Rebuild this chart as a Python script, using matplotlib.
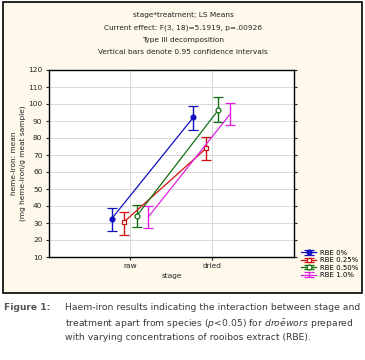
import matplotlib
matplotlib.use('Agg')
import matplotlib.pyplot as plt
import matplotlib.patches as patches
from matplotlib.container import ErrorbarContainer
from matplotlib.legend_handler import HandlerErrorbar

stages = ['raw', 'dried']
treatments = ['RBE 0%', 'RBE 0.25%', 'RBE 0.50%', 'RBE 1.0%']
colors = ['#1010c0', '#d01010', '#107010', '#e020e0']
markers = ['o', 's', 'o', '']
filled = [True, False, False, True]
offsets = [-0.23, -0.075, 0.075, 0.22]

means = [[32.5, 92.2], [30.8, 73.9], [34.1, 96.5], [33.7, 94.1]]
lower = [[25.3, 84.7], [22.9, 67.1], [27.5, 89.2], [26.9, 87.6]]
upper = [[38.6, 98.6], [36.7, 80.8], [40.8, 104.0], [40.2, 100.8]]

title_lines = ['stage*treatment; LS Means',
               'Current effect: F(3, 18)=5.1919, p=.00926',
               'Type III decomposition',
               'Vertical bars denote 0.95 confidence intervals']

W, H = 365, 360
fig = plt.figure(figsize=(W / 100, H / 100), dpi=100)
fig.patch.set_facecolor('white')

# cream panel with black border, kept behind the axes
box = patches.Rectangle((3 / W, 1 - 293 / H), 359 / W, 291 / H, transform=fig.transFigure,
                        facecolor='#fff9ec', edgecolor='black', linewidth=1.2, zorder=-10)
fig.patches.append(box)

for i, line in enumerate(title_lines):
    fig.text(183 / W, 1 - (15 + i * 12.3) / H, line, ha='center', va='center',
             fontsize=5.3, color='#222222')

ax = fig.add_axes([48.7 / W, 1 - 257 / H, (294 - 48.7) / W, (257 - 70) / H])
ax.set_facecolor('white')

for k in range(len(treatments)):
    xs = [j + offsets[k] for j in range(len(stages))]
    yerr = [[means[k][j] - lower[k][j] for j in range(2)],
            [upper[k][j] - means[k][j] for j in range(2)]]
    ax.errorbar(xs, means[k], yerr=yerr, color=colors[k], marker=markers[k], markersize=3.5,
                markerfacecolor=colors[k] if filled[k] else 'white', markeredgewidth=0.9,
                linewidth=0.9, elinewidth=1.0, capsize=3.5, capthick=1.0, label=treatments[k])

ax.set_xlim(-1, 2)
ax.set_ylim(10, 120)
ax.set_yticks(range(10, 121, 10))
ax.set_xticks(range(len(stages)))
ax.set_xticklabels(stages)
ax.tick_params(labelsize=5.3, length=2.5, width=0.8, colors='#222222', pad=2)
ax.tick_params(axis='y', right=True)
ax.grid(True, color='#d8d8d8', linewidth=0.7)
ax.set_axisbelow(True)
for s in ax.spines.values():
    s.set_linewidth(1.0)
ax.set_xlabel('stage', fontsize=5.3, labelpad=3, color='#222222')
ax.set_ylabel('heme-iron: mean\n(mg heme-iron/g meat sample)', fontsize=5.3,
              color='#222222', linespacing=1.4)
ax.yaxis.set_label_coords(-0.093, 0.5)

leg = fig.legend(loc='upper left', bbox_to_anchor=(296 / W, 1 - 245 / H), frameon=False,
                 fontsize=5.0, handlelength=2.2, handletextpad=0.6, labelspacing=0.2,
                 borderpad=0.2,
                 handler_map={ErrorbarContainer: HandlerErrorbar(xerr_size=0.5, yerr_size=0.32)})

# caption
cap_color = '#3a3a3a'
fig.text(4 / W, 1 - 308 / H, 'Figure 1:', fontsize=6.6, fontweight='bold', color='#555555',
         ha='left', va='center')
cap_lines = ['Haem-iron results indicating the interaction between stage and',
             r'treatment apart from species ($\it{p}$<0.05) for $\it{dro\bar{e}wors}$ prepared',
             'with varying concentrations of rooibos extract (RBE).']
for i, line in enumerate(cap_lines):
    fig.text(65 / W, 1 - (308 + i * 15) / H, line, fontsize=6.7, color=cap_color,
             ha='left', va='center')

fig.savefig('out.png', dpi=100)
